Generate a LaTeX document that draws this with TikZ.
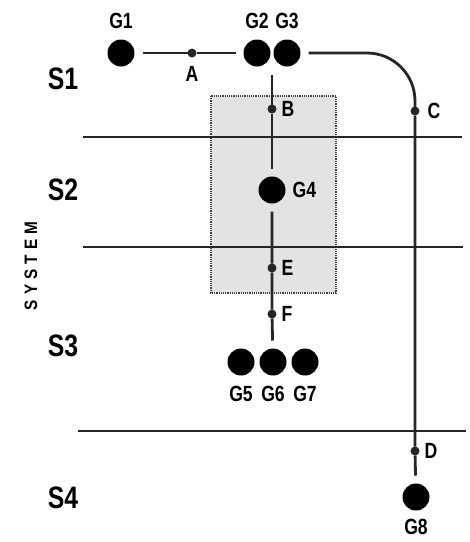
\documentclass[tikz,border=0pt]{standalone}
\usepackage{fontspec}
\newfontfamily\condsf{Liberation Sans}[FakeStretch=0.8]
\newfontfamily\spacedsf{Liberation Sans}[FakeStretch=0.85, LetterSpace=28]
\usepackage{tikz}
\usetikzlibrary{positioning,calc}
\definecolor{inkgray}{HTML}{262626}
\definecolor{boxgray}{HTML}{E2E3E5}
\tikzset{
  gene/.style={circle, fill=black, minimum size=27pt, inner sep=0pt, outer sep=8pt},
  junc/.style={circle, fill=inkgray, minimum size=9pt, inner sep=0pt, outer sep=0pt},
  glbl/.style={font=\condsf\bfseries\fontsize{22}{22}\selectfont, text=black, inner sep=0pt},
  stage/.style={font=\condsf\bfseries\fontsize{31}{31}\selectfont, inner sep=0pt},
  link/.style={line width=2.8pt, inkgray},
  rule/.style={line width=1.8pt, inkgray},
  zone/.style={fill=boxgray, draw=black!75, line width=1.3pt, dash pattern=on 1.2pt off 1pt},
}

\begin{document}
\begin{tikzpicture}[x=1pt, y=-1pt]
\useasboundingbox (0,0) rectangle (470,542);
% --- shaded zone ---
\draw[zone] (211,96) rectangle (336,293);
% --- stage rules ---
\foreach \y/\xa/\xb in {137/83/462, 247/83/463, 431/78/466}
  \draw[rule] (\xa,\y) -- (\xb,\y);
% --- stage names ---
\node[stage] (s1) at (63,79) {S1};
\node[stage] (s2) at (63,190) {S2};
\node[stage] (s3) at (63,346) {S3};
\node[stage] (s4) at (63,498) {S4};
\node[font=\spacedsf\bfseries\fontsize{18}{18}\selectfont, rotate=90, inner sep=0pt] (sys) at (31,266) {SYSTEM};
% --- genes ---
\node[gene, label={[glbl, label distance=3pt]above:G1}] (g1) at (121,53) {};
\node[gene, label={[glbl, label distance=3pt]above:G2}] (g2) at (257,53) {};
\node[gene, label={[glbl, label distance=3pt]above:G3}] (g3) at (287,53) {};
\node[gene, label={[glbl, label distance=-1pt]right:G4}] (g4) at (272,190) {};
\node[gene, label={[glbl, label distance=2pt]below:G5}] (g5) at (241,362) {};
\node[gene, label={[glbl, label distance=2pt]below:G6}] (g6) at (273,362) {};
\node[gene, label={[glbl, label distance=2pt]below:G7}] (g7) at (305,362) {};
\node[gene, label={[glbl, label distance=0pt]below:G8}] (g8) at (416,497) {};
% --- junctions ---
\node[junc, label={[glbl, label distance=9pt]below:A}] (a) at (192,53) {};
\node[junc, label={[glbl, label distance=5pt]right:B}] (b) at (272,109) {};
\node[junc, label={[glbl, label distance=8pt]right:C}] (c) at (415,111) {};
\node[junc, label={[glbl, label distance=5pt]right:D}] (d) at (415,451) {};
\node[junc, label={[glbl, label distance=5pt]right:E}] (e) at (272,268) {};
\node[junc, label={[glbl, label distance=5pt]right:F}] (f) at (272,314) {};
\coordinate (split) at ($(g2.south)!0.5!(g3.south)$);
\coordinate (bend) at (415,53);
% --- connectors ---
\draw[link] (g1) -- (a) -- (g2);
\draw[link] (split) -- (b) -- (g4);
\draw[link] (g4) -- (e) -- (f) -- (g6);
\draw[link, rounded corners=48pt] (g3.east) -- (bend) -- (c.center);
\draw[link] (c) -- (d) -- (g8);
\end{tikzpicture}
\end{document}
